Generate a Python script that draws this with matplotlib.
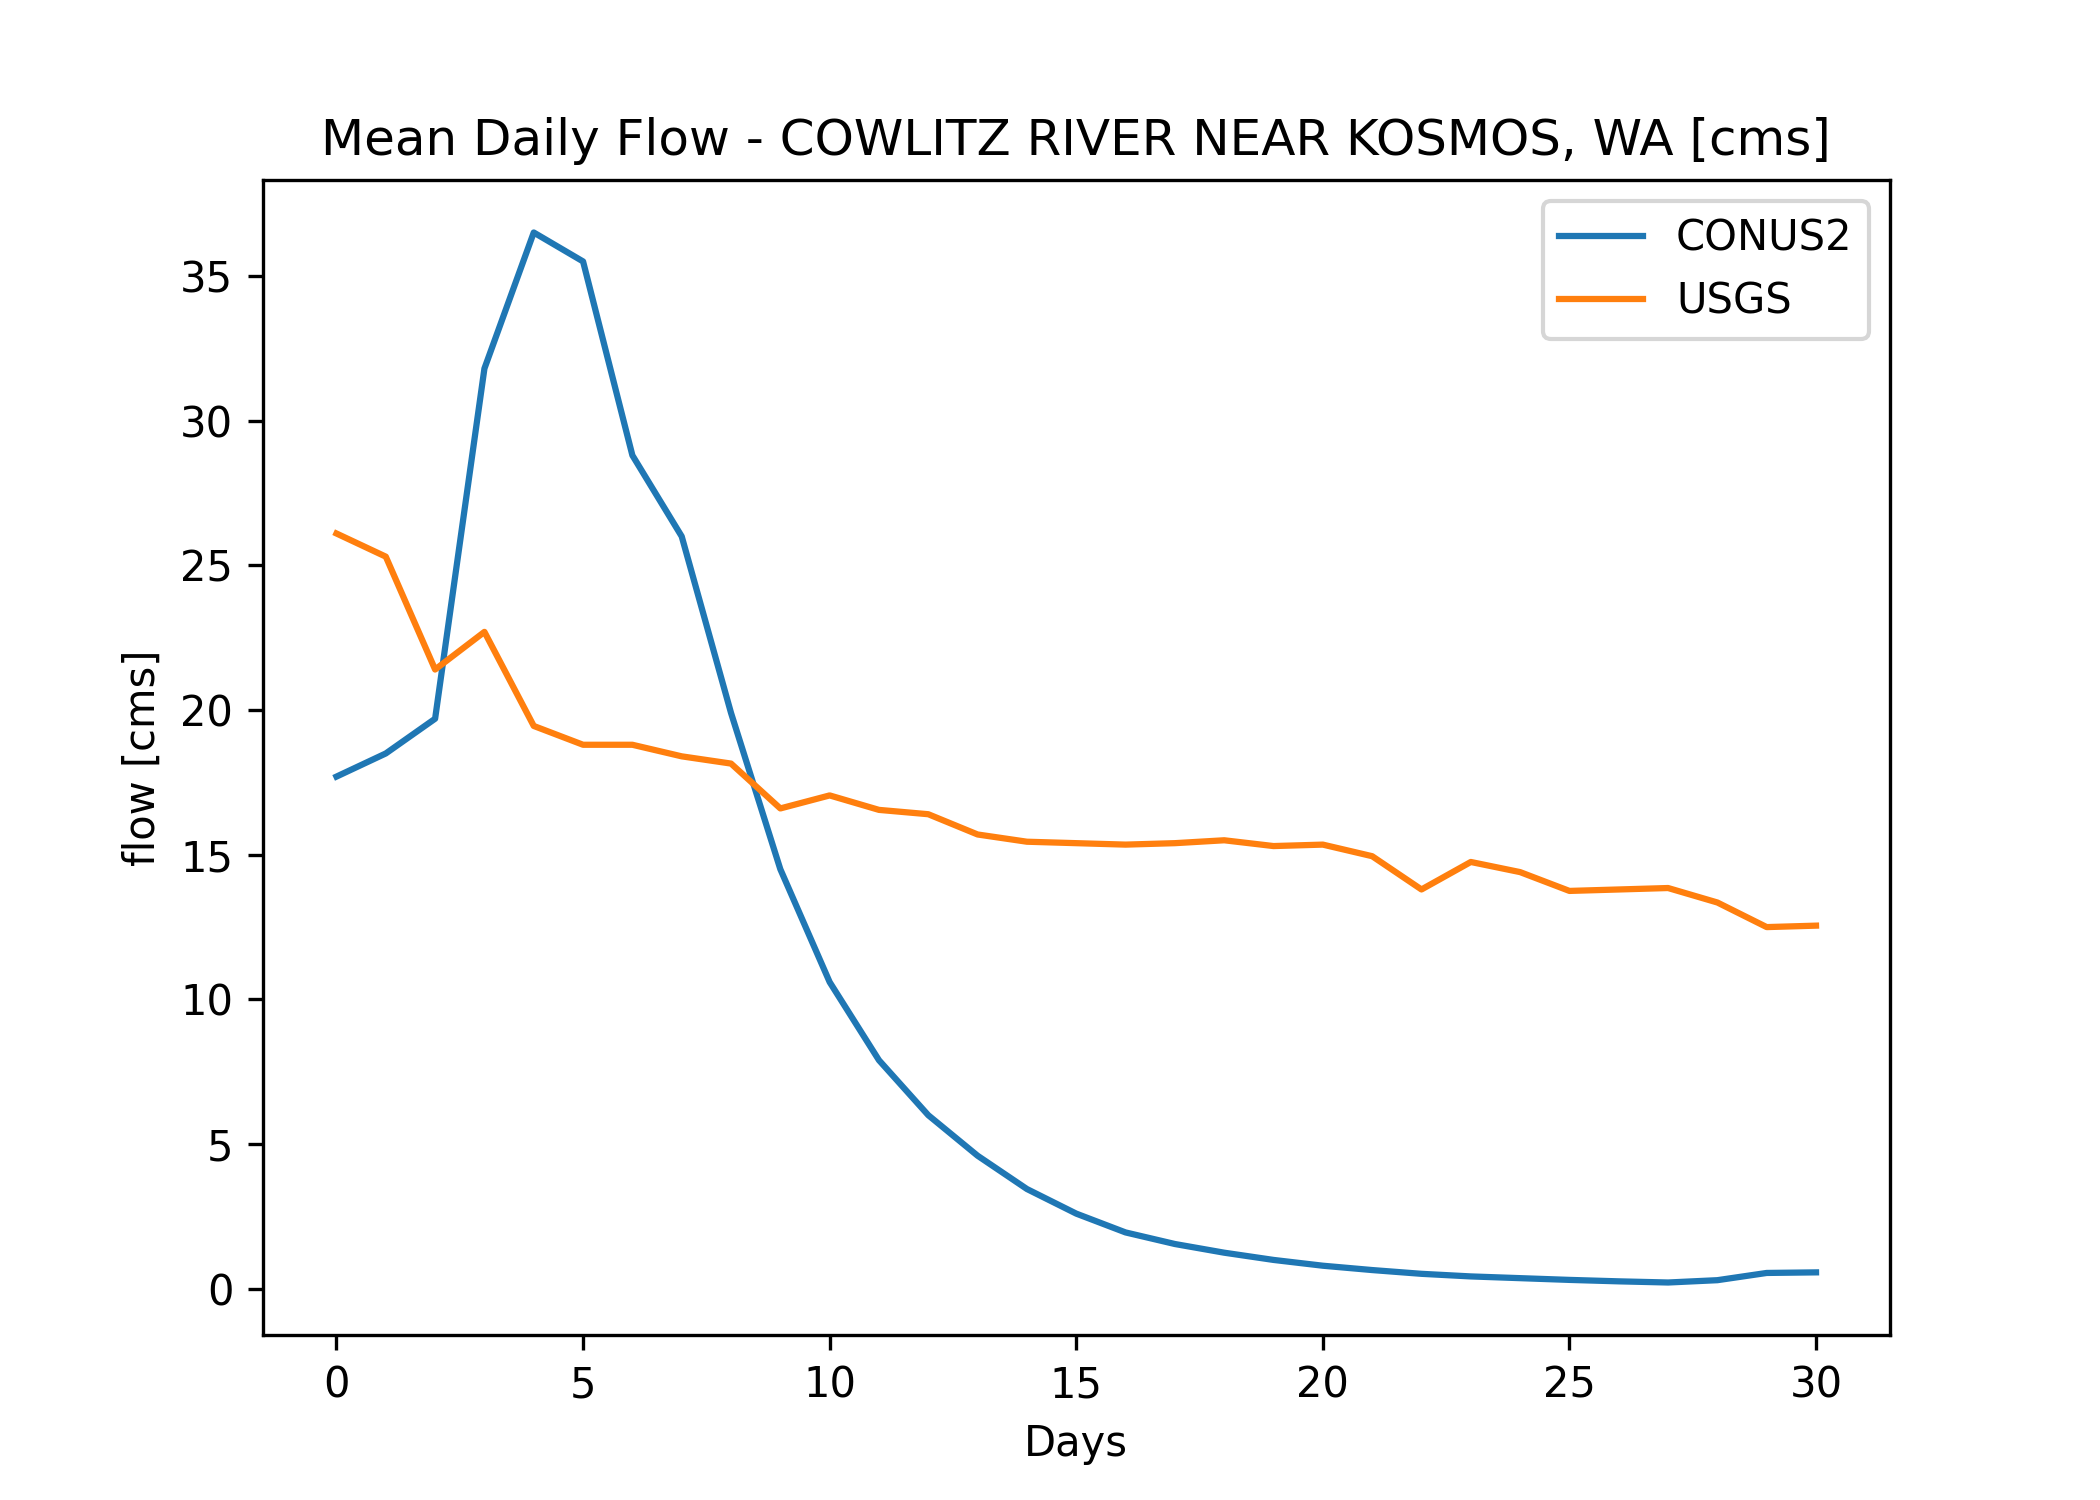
import matplotlib
matplotlib.use("Agg")
import matplotlib.pyplot as plt

days = list(range(31))
conus2 = [17.7, 18.5, 19.7, 31.8, 36.5, 35.5, 28.8, 26.0, 19.9, 14.5, 10.6, 7.9, 6.0, 4.6, 3.45, 2.6,
          1.95, 1.55, 1.25, 1.0, 0.8, 0.65, 0.52, 0.43, 0.37, 0.31, 0.26, 0.22, 0.3, 0.55, 0.57]
usgs = [26.1, 25.3, 21.4, 22.7, 19.45, 18.8, 18.8, 18.4, 18.15, 16.6, 17.05, 16.55, 16.4, 15.7, 15.45,
        15.4, 15.35, 15.4, 15.5, 15.3, 15.35, 14.95, 13.8, 14.75, 14.4, 13.75, 13.8, 13.85, 13.35, 12.5, 12.55]

fig, ax = plt.subplots(figsize=(7, 5), dpi=300)
ax.plot(days, conus2, label="CONUS2")
ax.plot(days, usgs, label="USGS")
ax.set_title("Mean Daily Flow - COWLITZ RIVER NEAR KOSMOS, WA [cms]")
ax.set_xlabel("Days")
ax.set_ylabel("flow [cms]")
ax.legend(loc="upper right")
fig.savefig("out.png")
